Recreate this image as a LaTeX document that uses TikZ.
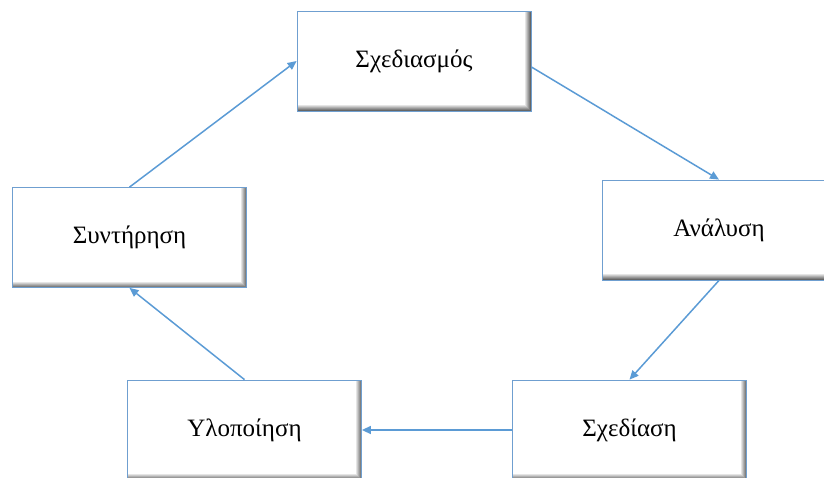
\documentclass[tikz,border=0pt]{standalone}
\usepackage{fontspec}
\setmainfont{Liberation Serif}
\usetikzlibrary{arrows.meta}
\definecolor{edgeblue}{HTML}{5B9BD5}
\definecolor{boxblue}{HTML}{6F9FD0}
\tikzset{
  stage/.style={draw=boxblue, line width=0.8pt, fill=white, minimum width=234pt, minimum height=100pt,
    inner sep=0pt, font=\fontsize{25}{28}\selectfont,
    path picture={
      \foreach \i in {1,...,6}{
        \pgfmathsetmacro{\g}{\i*10}
        \fill[black!\g] ([xshift={(\i-7)*1pt}]path picture bounding box.north east) rectangle ([xshift={(\i-6)*1pt}]path picture bounding box.south east);
        \fill[black!\g] ([yshift={(7-\i)*1pt}]path picture bounding box.south west) rectangle ([yshift={(6-\i)*1pt},xshift={-(7-\i)*1pt}]path picture bounding box.south east);
      }
    }},
  flow/.style={draw=edgeblue, line width=1.5pt, -{Triangle[length=9pt,width=8pt]}}
}
\begin{document}
\begin{tikzpicture}[x=1pt,y=-1pt]
\useasboundingbox (0,0) rectangle (824,477);
\clip (0,0) rectangle (824,477);
\node[stage] (b1) at (414,61) {Σχεδιασμός};
\node[stage] (b2) at (719,230) {Ανάλυση};
\node[stage] (b3) at (629.5,430) {Σχεδίαση};
\node[stage] (b4) at (129.5,237.5) {Συντήρηση};
\node[stage] (b5) at (244.5,430) {Υλοποίηση};
\draw[flow] ([yshift=-6pt]b1.east) -- (b2.north);
\draw[flow] (b2.south) -- (b3.north);
\draw[flow] (b3.west) -- (b5.east);
\draw[flow] (b5.north) -- (b4.south);
\draw[flow] (b4.north) -- (b1.west);
\end{tikzpicture}
\end{document}
